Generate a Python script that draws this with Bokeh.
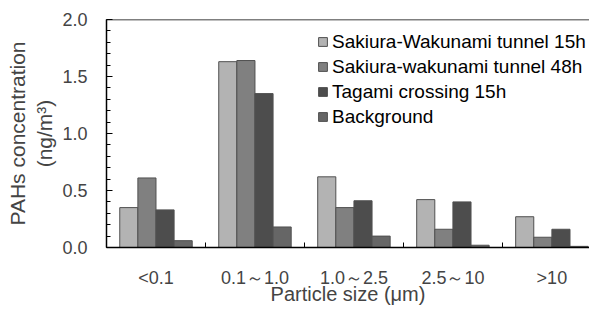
from bokeh.plotting import figure
from bokeh.models import FixedTicker, Range1d, Span, Legend, PrintfTickFormatter
from bokeh.embed import file_html
from bokeh.resources import INLINE

categories = ["<0.1", "0.1～1.0", "1.0～2.5", "2.5～10", ">10"]
series_names = ["Sakiura-Wakunami tunnel 15h", "Sakiura-wakunami tunnel 48h",
                "Tagami crossing 15h", "Background"]
s_tunnel15 = [0.35, 1.63, 0.62, 0.42, 0.27]
s_tunnel48 = [0.61, 1.64, 0.35, 0.16, 0.09]
s_tagami15 = [0.33, 1.35, 0.41, 0.40, 0.16]
s_background = [0.06, 0.18, 0.10, 0.02, 0.01]
series_values = [s_tunnel15, s_tunnel48, s_tagami15, s_background]
colors = ["#b3b3b3", "#808080", "#4d4d4d", "#666666"]
y_ticks = [0.0, 0.5, 1.0, 1.5, 2.0]
x_title = "Particle size (μm)"
y_title = "PAHs concentration\n(ng/m³)"

FONT = "Liberation Sans"

p = figure(width=589, height=309, output_backend="svg", toolbar_location=None,
           x_range=Range1d(0, 4.88), y_range=Range1d(0, 2.0),
           min_border_left=106, min_border_right=0, min_border_top=19, min_border_bottom=62)
p.outline_line_color = None
p.grid.grid_line_color = None

bar_w = 0.183
centers = [i + 0.5 for i in range(len(categories))]
items = []
for k, (name, vals, col) in enumerate(zip(series_names, series_values, colors)):
    xs = [c + (k - 1.5) * bar_w for c in centers]
    r = p.vbar(x=xs, top=vals, width=bar_w, bottom=0, fill_color=col,
               line_color="#505050", line_width=1)
    items.append((name, [r]))

legend = Legend(items=items, location=(211, 119), orientation="vertical")
legend.border_line_color = None
legend.background_fill_alpha = 0
legend.padding = 0
legend.margin = 0
legend.spacing = 2
legend.label_height = 23
legend.glyph_width = 11
legend.glyph_height = 11
legend.label_standoff = 4
legend.label_text_font = FONT
legend.label_text_font_size = "19px"
legend.label_text_color = "#000000"
p.add_layout(legend)

# top border line
p.add_layout(Span(location=2.0, dimension="width", line_color="#000000", line_width=1.5))

# x axis
xa = p.xaxis[0]
xa.ticker = FixedTicker(ticks=centers, minor_ticks=[0, 1, 2, 3, 4, 5])
xa.major_label_overrides = {c: lab for c, lab in zip(centers, categories)}
xa.major_tick_in = 0
xa.major_tick_out = 0
xa.minor_tick_in = 5
xa.minor_tick_out = 0
xa.major_label_standoff = 20
xa.major_label_text_font = FONT
xa.major_label_text_font_size = "18px"
xa.axis_label = x_title
xa.axis_label_standoff = -8
xa.axis_label_text_font_style = "normal"
xa.axis_label_text_font = FONT
xa.axis_label_text_font_size = "20px"
xa.axis_line_color = "#000000"
xa.axis_line_width = 1.5
xa.minor_tick_line_color = "#000000"

# y axis
ya = p.yaxis[0]
ya.ticker = FixedTicker(ticks=y_ticks, minor_ticks=[i / 10 for i in range(21)])
ya.formatter = PrintfTickFormatter(format="%.1f")
ya.major_tick_in = 6
ya.major_tick_out = 0
ya.minor_tick_in = 4
ya.minor_tick_out = 0
ya.major_label_standoff = 19
ya.axis_label = y_title
ya.axis_label_standoff = 3
ya.axis_label_text_font_style = "normal"
ya.axis_label_text_font = FONT
ya.axis_label_text_font_size = "21px"
ya.major_label_text_font = FONT
ya.major_label_text_font_size = "18px"
ya.axis_line_color = "#000000"
ya.axis_line_width = 1.5
ya.major_tick_line_color = "#000000"
ya.minor_tick_line_color = "#000000"

open("out.html", "w").write(file_html(p, INLINE))
